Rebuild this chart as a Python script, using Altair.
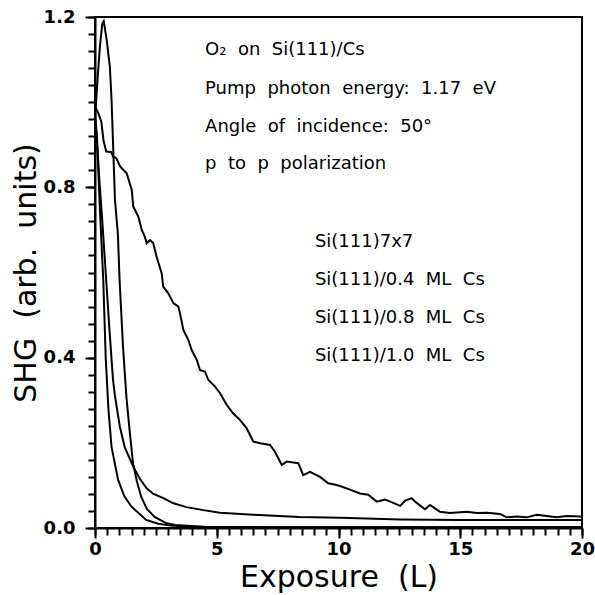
import altair as alt
import pandas as pd

# ---------------- data ----------------
series_names = ["Si(111)7x7", "Si(111)/0.4 ML Cs", "Si(111)/0.8 ML Cs", "Si(111)/1.0 ML Cs"]

# slow, noisy decay
a_x = [0, 0.13, 0.26, 0.35, 0.46, 0.66, 0.75, 0.87, 1.03, 1.3, 1.51, 1.57, 1.78, 1.92, 2.05, 2.12,
       2.26, 2.39, 2.53, 2.74, 2.8, 3.01, 3.22, 3.42, 3.49, 3.63, 3.83, 3.97, 4.18, 4.31, 4.52, 4.65,
       4.93, 5.13, 5.4, 5.66, 5.95, 6.23, 6.5, 6.78, 7.19, 7.39, 7.67, 7.87, 8.35, 8.55, 8.83, 9.24,
       9.58, 9.93, 10.34, 10.88, 11.22, 11.57, 11.91, 12.25, 12.53, 12.73, 13.0, 13.21, 13.55, 13.76,
       13.96, 14.17, 14.58, 15.27, 15.68, 16.09, 16.63, 16.91, 17.32, 17.73, 18.14, 18.55, 18.96,
       19.37, 19.92, 20]
a_y = [0.99, 0.975, 0.954, 0.91, 0.884, 0.883, 0.872, 0.869, 0.849, 0.833, 0.794, 0.755, 0.731, 0.700,
       0.684, 0.669, 0.676, 0.669, 0.637, 0.598, 0.567, 0.551, 0.528, 0.520, 0.504, 0.465, 0.442, 0.418,
       0.395, 0.371, 0.367, 0.348, 0.332, 0.317, 0.29, 0.27, 0.254, 0.234, 0.203, 0.199, 0.195, 0.179,
       0.148, 0.156, 0.152, 0.124, 0.132, 0.120, 0.105, 0.101, 0.093, 0.081, 0.078, 0.062, 0.067, 0.059,
       0.052, 0.064, 0.070, 0.059, 0.044, 0.054, 0.046, 0.038, 0.035, 0.038, 0.035, 0.036, 0.033, 0.025,
       0.027, 0.025, 0.031, 0.028, 0.025, 0.028, 0.027, 0.026]

# decay with a long tail
c_x = [0, 0.1, 0.2, 0.3, 0.46, 0.6, 0.74, 0.82, 1.02, 1.22, 1.57, 1.85, 2.12, 2.4, 2.81, 3.22, 3.76,
       4.45, 5.13, 6.5, 8.4, 10.06, 12.53, 15, 17.5, 20]
c_y = [0.97, 0.89, 0.8, 0.72, 0.582, 0.46, 0.348, 0.31, 0.238, 0.19, 0.144, 0.115, 0.093, 0.08, 0.07,
       0.058, 0.049, 0.042, 0.036, 0.031, 0.026, 0.024, 0.02, 0.019, 0.019, 0.019]

# peaked curve
b_x = [0, 0.1, 0.2, 0.3, 0.36, 0.48, 0.61, 0.68, 0.75, 0.82, 0.94, 1.01, 1.15, 1.29, 1.42, 1.56, 1.72,
       1.9, 2.13, 2.45, 2.9, 3.3, 4.5, 7, 12, 20]
b_y = [0.96, 1.05, 1.13, 1.185, 1.19, 1.146, 1.083, 1.005, 0.888, 0.77, 0.69, 0.582, 0.426, 0.308, 0.23,
       0.153, 0.11, 0.073, 0.045, 0.026, 0.012, 0.007, 0.003, 0.002, 0.002, 0.002]

# fastest decay
d_x = [0, 0.08, 0.2, 0.34, 0.44, 0.55, 0.68, 0.95, 1.2, 1.5, 2.1, 2.6, 3.2, 4, 6, 20]
d_y = [0.97, 0.92, 0.75, 0.582, 0.40, 0.28, 0.19, 0.113, 0.075, 0.05, 0.019, 0.01, 0.005, 0.003, 0.002, 0.002]

info_lines = ["O\u2082 on Si(111)/Cs", "Pump photon energy: 1.17 eV",
              "Angle of incidence: 50\u00b0", "p to p polarization"]

x_major_ticks = [0, 5, 10, 15, 20]
y_major_ticks = [0.0, 0.4, 0.8, 1.2]

# ---------------- layout ----------------
NB2 = "\u00a0\u00a0"
info_pos_x = 4.52
info_pos_y = [1.111, 1.019, 0.930, 0.843]
legend_pos_x = 9.03
legend_pos_y = [0.659, 0.571, 0.481, 0.391]

rows = []
for name, xs_, ys_ in zip(series_names, [a_x, c_x, b_x, d_x], [a_y, c_y, b_y, d_y]):
    assert len(xs_) == len(ys_), name
    for i, (xv, yv) in enumerate(zip(xs_, ys_)):
        rows.append({"series": name, "idx": i, "x": xv, "y": yv})
df = pd.DataFrame(rows)

text_rows = []
for t, yv in zip(info_lines, info_pos_y):
    text_rows.append({"label": t.replace(" ", NB2), "x": info_pos_x, "y": yv})
for t, yv in zip(series_names, legend_pos_y):
    text_rows.append({"label": t.replace(" ", NB2), "x": legend_pos_x, "y": yv})
df_text = pd.DataFrame(text_rows)

FONT = "DejaVu Sans"
xscale = alt.Scale(domain=[0, 20], nice=False, zero=False)
yscale = alt.Scale(domain=[0, 1.2], nice=False, zero=False)

x_minor_vals = [i * 0.5 for i in range(41)]
y_minor_vals = [round(i * 0.04, 2) for i in range(31)]

x_major = alt.Axis(orient="bottom", values=x_major_ticks, format="d", tickSize=10, tickWidth=2,
                   tickColor="black", domainColor="black", domainWidth=2, labelFont=FONT,
                   labelFontSize=18, labelFontWeight="bold", labelColor="black", labelPadding=2,
                   labelFlush=False, grid=False, title="Exposure" + NB2 + "(L)", titleFont=FONT,
                   titleFontSize=30, titleFontWeight="normal", titleColor="black", titlePadding=4)
y_major = alt.Axis(orient="left", values=y_major_ticks, format=".1f", tickSize=10, tickWidth=2,
                   tickColor="black", domainColor="black", domainWidth=2, labelFont=FONT,
                   labelFontSize=18, labelFontWeight="bold", labelColor="black", labelPadding=10,
                   grid=False, title="SHG" + NB2 + "(arb." + NB2 + "units)", titleFont=FONT,
                   titleFontSize=30, titleFontWeight="normal", titleColor="black", titlePadding=2)
x_minor = alt.Axis(orient="bottom", values=x_minor_vals, tickSize=7, tickWidth=2, tickColor="black",
                   domain=False, labels=False, grid=False, title=None)
y_minor = alt.Axis(orient="left", values=y_minor_vals, tickSize=7, tickWidth=2, tickColor="black",
                   domain=False, labels=False, grid=False, title=None)

minor = alt.Chart(df).mark_point(opacity=0).encode(
    x=alt.X("x:Q", scale=xscale, axis=x_minor),
    y=alt.Y("y:Q", scale=yscale, axis=y_minor),
)

lines = alt.Chart(df).mark_line(color="black", strokeWidth=2, clip=True).encode(
    x=alt.X("x:Q", scale=xscale, axis=x_major),
    y=alt.Y("y:Q", scale=yscale, axis=y_major),
    detail="series:N",
    order="idx:Q",
)

texts = alt.Chart(df_text).mark_text(align="left", baseline="alphabetic", font=FONT, fontSize=18,
                                     color="black").encode(
    x=alt.X("x:Q", scale=xscale, axis=None),
    y=alt.Y("y:Q", scale=yscale, axis=None),
    text="label:N",
)

chart = (
    alt.layer(minor, lines, texts)
    .resolve_axis(x="independent", y="independent")
    .properties(width=487, height=511,
                padding={"left": 95, "top": 17, "right": 13, "bottom": 67},
                autosize=alt.AutoSizeParams(type="none"),
                background="white")
    .configure_view(stroke="black", strokeWidth=2)
)

chart.save("out.html", embed_options={"renderer": "svg", "actions": False})
